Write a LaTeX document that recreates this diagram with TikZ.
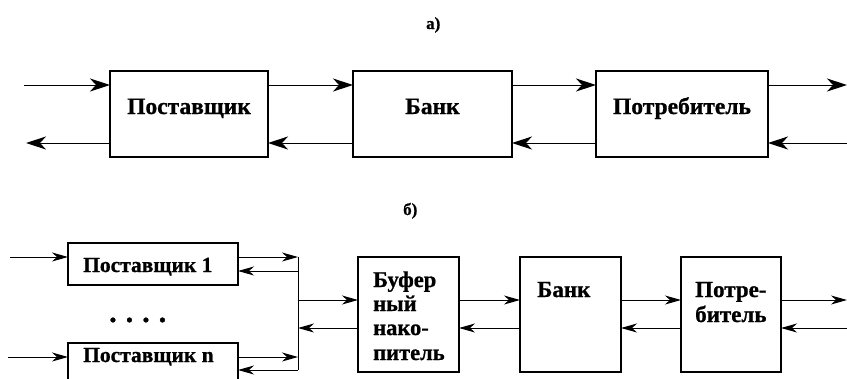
\documentclass[tikz,border=0pt]{standalone}
\usepackage{fontspec}
\setmainfont{Liberation Serif}[BoldFeatures={FakeBold=0.8}]
\usetikzlibrary{arrows.meta}
\begin{document}
\begin{tikzpicture}[x=1pt,y=-1pt,
  box/.style={draw, line width=1.3pt, inner sep=0pt, outer sep=0pt, anchor=north west},
  bigarr/.style={line width=1pt, -{Stealth[length=20pt,width=13pt,inset=6pt]}},
  smarr/.style={line width=1pt, -{Stealth[length=16pt,width=9pt,inset=5pt]}},
  wire/.style={line width=1pt},
  ttext/.style={font=\fontsize{23.5}{27}\selectfont\bfseries, inner sep=0pt, anchor=base},
  btext/.style={font=\fontsize{22.5}{26}\selectfont\bfseries, inner sep=0pt, anchor=base west},
  stext/.style={font=\fontsize{21.5}{25}\selectfont\bfseries, inner sep=0pt, anchor=base west},
  lbl/.style={font=\fontsize{17}{20}\selectfont\bfseries, inner sep=0pt, anchor=base west}
]
\clip (0,0) rectangle (847,378);
% ---------- a) ----------
\node[lbl] (la) at (426,29) {а)};
\node[box, minimum width=158pt, minimum height=86pt] (sup) at (110,71) {};
\node[box, minimum width=159pt, minimum height=86pt] (bank) at (353,71) {};
\node[box, minimum width=172pt, minimum height=86pt] (cons) at (596,71) {};
\node[ttext] (tsup) at (189,114) {Поставщик};
\node[ttext] (tbank) at (432.5,114) {Банк};
\node[ttext] (tcons) at (682,114) {Потребитель};
\coordinate (tinL) at (24,85);
\coordinate (toutL) at (26,143);
\coordinate (tR) at (847,85);
\draw[bigarr] (tinL) -- (sup.west |- tinL);
\draw[bigarr] (sup.west |- toutL) -- (toutL);
\draw[bigarr] (sup.east |- tinL) -- (bank.west |- tinL);
\draw[bigarr] (bank.west |- toutL) -- (sup.east |- toutL);
\draw[bigarr] (bank.east |- tinL) -- (cons.west |- tinL);
\draw[bigarr] (cons.west |- toutL) -- (bank.east |- toutL);
\draw[bigarr] (cons.east |- tinL) -- (tR);
\draw[bigarr] (tR |- toutL) -- (cons.east |- toutL);
% ---------- b) ----------
\node[lbl] (lb) at (403,215) {б)};
\node[box, minimum width=170pt, minimum height=42pt] (s1) at (68,243) {};
\node[box, minimum width=170pt, minimum height=50pt] (sn) at (68,343) {};
\node[stext] (ts1) at (83,272) {Поставщик 1};
\node[stext] (tsn) at (83,362) {Поставщик n};
\node[font=\fontsize{30}{34}\selectfont\bfseries, inner sep=0pt, anchor=base west] (dots) at (109,322) {.\hspace{9pt}.\hspace{9pt}.\hspace{9pt}.};
\node[box, minimum width=101pt, minimum height=115pt] (buf) at (358,257) {};
\node[box, minimum width=101pt, minimum height=115pt] (bbank) at (520,257) {};
\node[box, minimum width=100pt, minimum height=115pt] (bcons) at (681,257) {};
\node[btext] (bf1) at (373,287) {Буфер};
\node[btext] (bf2) at (373,311) {ный};
\node[btext] (bf3) at (373,335) {нако-};
\node[btext] (bf4) at (373,360) {питель};
\node[btext, font=\fontsize{23}{26}\selectfont\bfseries] (tbb) at (537,297) {Банк};
\node[btext, font=\fontsize{23}{26}\selectfont\bfseries] (bc1) at (695,297) {Потре-};
\node[btext, font=\fontsize{23}{26}\selectfont\bfseries] (bc2) at (695,322) {битель};
\coordinate (in1) at (10,257);
\coordinate (inn) at (8,357);
\coordinate (j1) at (298,257);
\coordinate (j1r) at (298,271);
\coordinate (jn) at (298,357);
\coordinate (jnr) at (298,370);
\coordinate (jm) at (298,300);
\coordinate (jmr) at (298,328);
\coordinate (bR) at (847,300);
\draw[smarr] (in1) -- (s1.west |- in1);
\draw[smarr] (inn) -- (sn.west |- inn);
\draw[smarr] (s1.east |- j1) -- (j1);
\draw[smarr] (j1r) -- (s1.east |- j1r);
\draw[smarr] (sn.east |- jn) -- (jn);
\draw[smarr] (jnr) -- (sn.east |- jnr);
\draw[wire] (j1) -- (jnr);
\draw[smarr] (jm) -- (buf.west |- jm);
\draw[smarr] (buf.west |- jmr) -- (jmr);
\draw[smarr] (buf.east |- jm) -- (bbank.west |- jm);
\draw[smarr] (bbank.west |- jmr) -- (buf.east |- jmr);
\draw[smarr] (bbank.east |- jm) -- (bcons.west |- jm);
\draw[smarr] (bcons.west |- jmr) -- (bbank.east |- jmr);
\draw[smarr] (bcons.east |- jm) -- (bR);
\draw[smarr] (bR |- jmr) -- (bcons.east |- jmr);
\end{tikzpicture}
\end{document}
